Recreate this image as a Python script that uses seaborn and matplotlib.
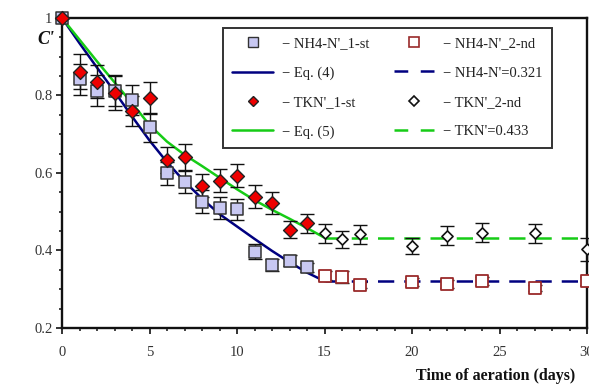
import matplotlib
matplotlib.use("Agg")
import matplotlib.pyplot as plt
import seaborn as sns
from matplotlib.lines import Line2D
from matplotlib.ticker import MultipleLocator, FixedLocator, FixedFormatter

# ---------------- data ----------------
days_1st = [0, 1, 2, 3, 4, 5, 6, 7, 8, 9, 10, 11, 12, 13, 14]
nh4_1st = [1.0, 0.842, 0.812, 0.812, 0.788, 0.718, 0.599, 0.578, 0.526, 0.509,
           0.506, 0.397, 0.363, 0.374, 0.357]
nh4_1st_err = [0.0, 0.04, 0.04, 0.04, 0.038, 0.037, 0.03, 0.03, 0.03, 0.028,
               0.028, 0.02, 0.015, 0.015, 0.012]
tkn_1st = [1.0, 0.861, 0.836, 0.807, 0.760, 0.793, 0.633, 0.640, 0.567, 0.580,
           0.593, 0.539, 0.523, 0.453, 0.470]
tkn_1st_err = [0.0, 0.045, 0.043, 0.044, 0.038, 0.041, 0.033, 0.034, 0.03, 0.03,
               0.03, 0.03, 0.028, 0.022, 0.025]

days_2nd = [15, 16, 17, 20, 22, 24, 27, 30]
nh4_2nd = [0.335, 0.332, 0.311, 0.318, 0.314, 0.321, 0.304, 0.322]
nh4_2nd_err = [0.012, 0.015, 0.008, 0.01, 0.01, 0.01, 0.008, 0.01]
tkn_2nd = [0.444, 0.429, 0.442, 0.412, 0.438, 0.446, 0.444, 0.403]
tkn_2nd_err = [0.025, 0.022, 0.025, 0.02, 0.025, 0.025, 0.025, 0.03]

eq_days = [0, 1, 2, 3, 4, 5, 6, 7, 8, 9, 10, 11, 12, 13, 14, 15]
eq4_vals = [1.0, 0.935, 0.872, 0.810, 0.746, 0.684, 0.628, 0.578, 0.534, 0.494,
            0.462, 0.430, 0.399, 0.370, 0.343, 0.321]
eq5_vals = [1.0, 0.944, 0.888, 0.834, 0.780, 0.724, 0.681, 0.647, 0.618, 0.588,
            0.558, 0.530, 0.505, 0.482, 0.458, 0.433]

plateau_days = [15, 30]
nh4_plateau = [0.321, 0.321]
tkn_plateau = [0.433, 0.433]

x_ticks = [0, 5, 10, 15, 20, 25, 30]
x_tick_labels = ["0", "5", "10", "15", "20", "25", "30"]
y_ticks = [0.2, 0.4, 0.6, 0.8, 1.0]
y_tick_labels = ["0.2", "0.4", "0.6", "0.8", "1"]

legend_labels = ["\u2212 NH4-N'_1-st", "\u2212 Eq. (4)", "\u2212 TKN'_1-st", "\u2212 Eq. (5)",
                 "\u2212 NH4-N'_2-nd", "\u2212 NH4-N'=0.321", "\u2212 TKN'_2-nd", "\u2212 TKN'=0.433"]

# ---------------- style ----------------
sns.set_theme(style="ticks")
plt.rcParams["font.family"] = ["Liberation Serif", "DejaVu Serif"]

BLUE = "#000080"
GREEN = "#16cc16"
SQ_FACE = "#c8c8f2"
RED = "#ee0000"
BROWN = "#9a2a2a"
DASH = (0, (6.5, 4.0))
LEG_DASH = (0, (5.5, 5.0))

fig = plt.figure(figsize=(5.89, 3.85), dpi=100)
ax = fig.add_axes([62 / 589, 1 - 328 / 385, 525 / 589, 310 / 385])

# model curves
sns.lineplot(x=eq_days, y=eq4_vals, ax=ax, color=BLUE, linewidth=1.8, zorder=2, legend=False)
sns.lineplot(x=eq_days, y=eq5_vals, ax=ax, color=GREEN, linewidth=1.8, zorder=2, legend=False)
sns.lineplot(x=plateau_days, y=nh4_plateau, ax=ax, color=BLUE, linewidth=1.8,
             linestyle=DASH, zorder=2, legend=False)
sns.lineplot(x=plateau_days, y=tkn_plateau, ax=ax, color=GREEN, linewidth=1.8,
             linestyle=DASH, zorder=2, legend=False)

# error bars
for xs, ys, es in [(days_1st, nh4_1st, nh4_1st_err), (days_1st, tkn_1st, tkn_1st_err),
                   (days_2nd, nh4_2nd, nh4_2nd_err), (days_2nd, tkn_2nd, tkn_2nd_err)]:
    ax.errorbar(xs, ys, yerr=es, fmt="none", ecolor="#111111", elinewidth=1.0,
                capsize=5.0, capthick=1.0, zorder=3, clip_on=False)

# markers
sns.scatterplot(x=days_1st, y=nh4_1st, ax=ax, marker="s", s=85, color=SQ_FACE,
                edgecolor="#333333", linewidth=1.1, zorder=4, clip_on=False, legend=False)
sns.scatterplot(x=days_1st, y=tkn_1st, ax=ax, marker="D", s=50, color=RED,
                edgecolor="#222222", linewidth=1.0, zorder=5, clip_on=False, legend=False)
sns.scatterplot(x=days_2nd, y=nh4_2nd, ax=ax, marker="s", s=75, color="white",
                edgecolor=BROWN, linewidth=1.3, zorder=4, clip_on=False, legend=False)
sns.scatterplot(x=days_2nd, y=tkn_2nd, ax=ax, marker="D", s=32, color="white",
                edgecolor="#111111", linewidth=1.2, zorder=5, clip_on=False, legend=False)

# axes
ax.set_xlim(0, 30)
ax.set_ylim(0.2, 1.0)
ax.xaxis.set_major_locator(FixedLocator(x_ticks))
ax.xaxis.set_major_formatter(FixedFormatter(x_tick_labels))
ax.yaxis.set_major_locator(FixedLocator(y_ticks))
ax.yaxis.set_major_formatter(FixedFormatter(y_tick_labels))
ax.xaxis.set_minor_locator(MultipleLocator(1))
ax.yaxis.set_minor_locator(MultipleLocator(0.05))
ax.tick_params(axis="both", which="major", direction="out", length=4, width=1.2,
               labelsize=10.5, labelcolor="#333333", color="#111111")
ax.tick_params(axis="x", which="major", pad=9)
ax.tick_params(axis="y", which="major", pad=3)
ax.tick_params(axis="both", which="minor", direction="out", length=2.5, width=1.1, color="#111111")
for side in ["left", "right", "top", "bottom"]:
    ax.spines[side].set_visible(True)
    ax.spines[side].set_linewidth(1.7)
    ax.spines[side].set_color("#111111")
ax.set_xlabel("")
ax.set_ylabel("")

fig.text(46 / 589, 1 - 40 / 385, "C'", fontsize=13, fontweight="bold", fontstyle="italic",
         ha="center", va="center", color="#111111")
fig.text(496 / 589, 1 - 376 / 385, "Time of aeration (days)", fontsize=11.5,
         fontweight="bold", ha="center", va="center", color="#111111")

# legend
handles = [
    Line2D([], [], linestyle="none", marker="s", markersize=7, markerfacecolor=SQ_FACE,
           markeredgecolor="#333333", markeredgewidth=1.0),
    Line2D([], [], color=BLUE, linewidth=1.8),
    Line2D([], [], linestyle="none", marker="D", markersize=5.5, markerfacecolor=RED,
           markeredgecolor="#222222", markeredgewidth=1.0),
    Line2D([], [], color=GREEN, linewidth=1.8),
    Line2D([], [], linestyle="none", marker="s", markersize=7, markerfacecolor="white",
           markeredgecolor=BROWN, markeredgewidth=1.2),
    Line2D([], [], color=BLUE, linewidth=1.8, linestyle=LEG_DASH),
    Line2D([], [], linestyle="none", marker="D", markersize=5, markerfacecolor="white",
           markeredgecolor="#111111", markeredgewidth=1.2),
    Line2D([], [], color=GREEN, linewidth=1.8, linestyle=LEG_DASH),
]
leg = ax.legend(handles, legend_labels, ncol=2, loc="upper left",
                bbox_to_anchor=(0.306, 0.969), fontsize=10.5, frameon=True,
                fancybox=False, shadow=False, handlelength=2.8, handletextpad=0.6,
                columnspacing=1.7, labelspacing=1.1, borderpad=0.65,
                borderaxespad=0.0)
leg.get_frame().set_edgecolor("#333333")
leg.get_frame().set_linewidth(1.4)
leg.get_frame().set_alpha(1.0)
for t in leg.get_texts():
    t.set_color("#222222")

fig.savefig("out.png", dpi=100)
